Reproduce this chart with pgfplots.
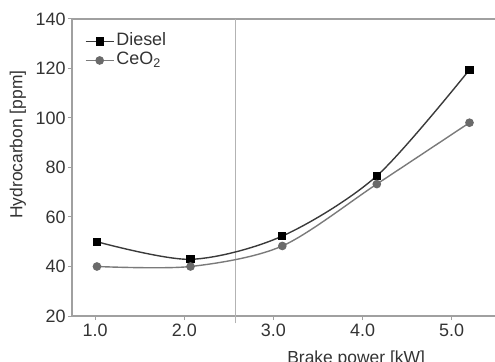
\documentclass[border=0pt]{standalone}
\usepackage{pgfplots}
\pgfplotsset{compat=1.18}
\usepackage{fontspec}
\setmainfont{Liberation Sans}
\definecolor{axisgray}{HTML}{A0A0A0}
\definecolor{labelgray}{HTML}{333333}
\definecolor{dieselline}{HTML}{3A3A3A}
\definecolor{ceoline}{HTML}{7A7A7A}
\definecolor{ceomark}{HTML}{6A6A6A}
\begin{document}
\begin{tikzpicture}
\useasboundingbox (-72bp,-46bp) rectangle (423bp,316bp);
\begin{axis}[
  scale only axis, width=426bp, height=297bp,
  xmin=0.74, xmax=5.52, ymin=20, ymax=140,
  xtick={1,2,3,4,5}, xticklabels={1.0,2.0,3.0,4.0,5.0},
  ytick={20,40,60,80,100,120,140},
  xtick pos=bottom, ytick pos=left, tick align=outside,
  major tick length=4bp,
  axis line style={axisgray, line width=1.3bp},
  every tick/.style={axisgray, line width=1bp},
  tick label style={font=\fontsize{18}{21}\selectfont, text=labelgray},
  yticklabel style={xshift=1bp},
  /pgf/number format/assume math mode=true,
  clip=false,
  xlabel={Brake power [kW]}, ylabel={Hydrocarbon [ppm]},
  label style={font=\fontsize{17.5}{21}\selectfont, text=labelgray},
  xlabel style={at={(axis description cs:0.667,0)}, anchor=base, yshift=-47bp},
  ylabel style={at={(axis description cs:-0.127,0.577)}, anchor=center, rotate=0},
  legend style={draw=none, fill=none, inner sep=0pt, at={(axis description cs:0.03,0.957)}, anchor=north west,
    font=\fontsize{18}{18}\selectfont, text=labelgray, row sep=0bp,
    nodes={text height=13bp, text depth=4bp, inner ysep=1bp, inner xsep=2bp}},
  legend cell align=left,
  legend image code/.code={\draw[mark repeat=2,mark phase=2] plot coordinates {(0bp,0bp) (14bp,0bp) (28bp,0bp)};},
]
\draw[axisgray!80, line width=0.8bp] (axis cs:2.57,17) -- (axis cs:2.57,140);
\addplot[dieselline, line width=1.4bp, smooth, mark=square*, mark size=3.4bp, mark options={black, solid}]
  coordinates {(1.02,50.0) (2.07,42.9) (3.10,52.3) (4.16,76.6) (5.20,119.5)};
\addlegendentry{Diesel}
\addplot[ceoline, line width=1.4bp, smooth, mark=*, mark size=3.6bp, mark options={ceomark, fill=ceomark, solid}]
  coordinates {(1.02,40.0) (2.07,40.0) (3.10,48.3) (4.16,73.3) (5.20,98.1)};
\addlegendentry{CeO\textsubscript{2}}
\end{axis}
\end{tikzpicture}
\end{document}
